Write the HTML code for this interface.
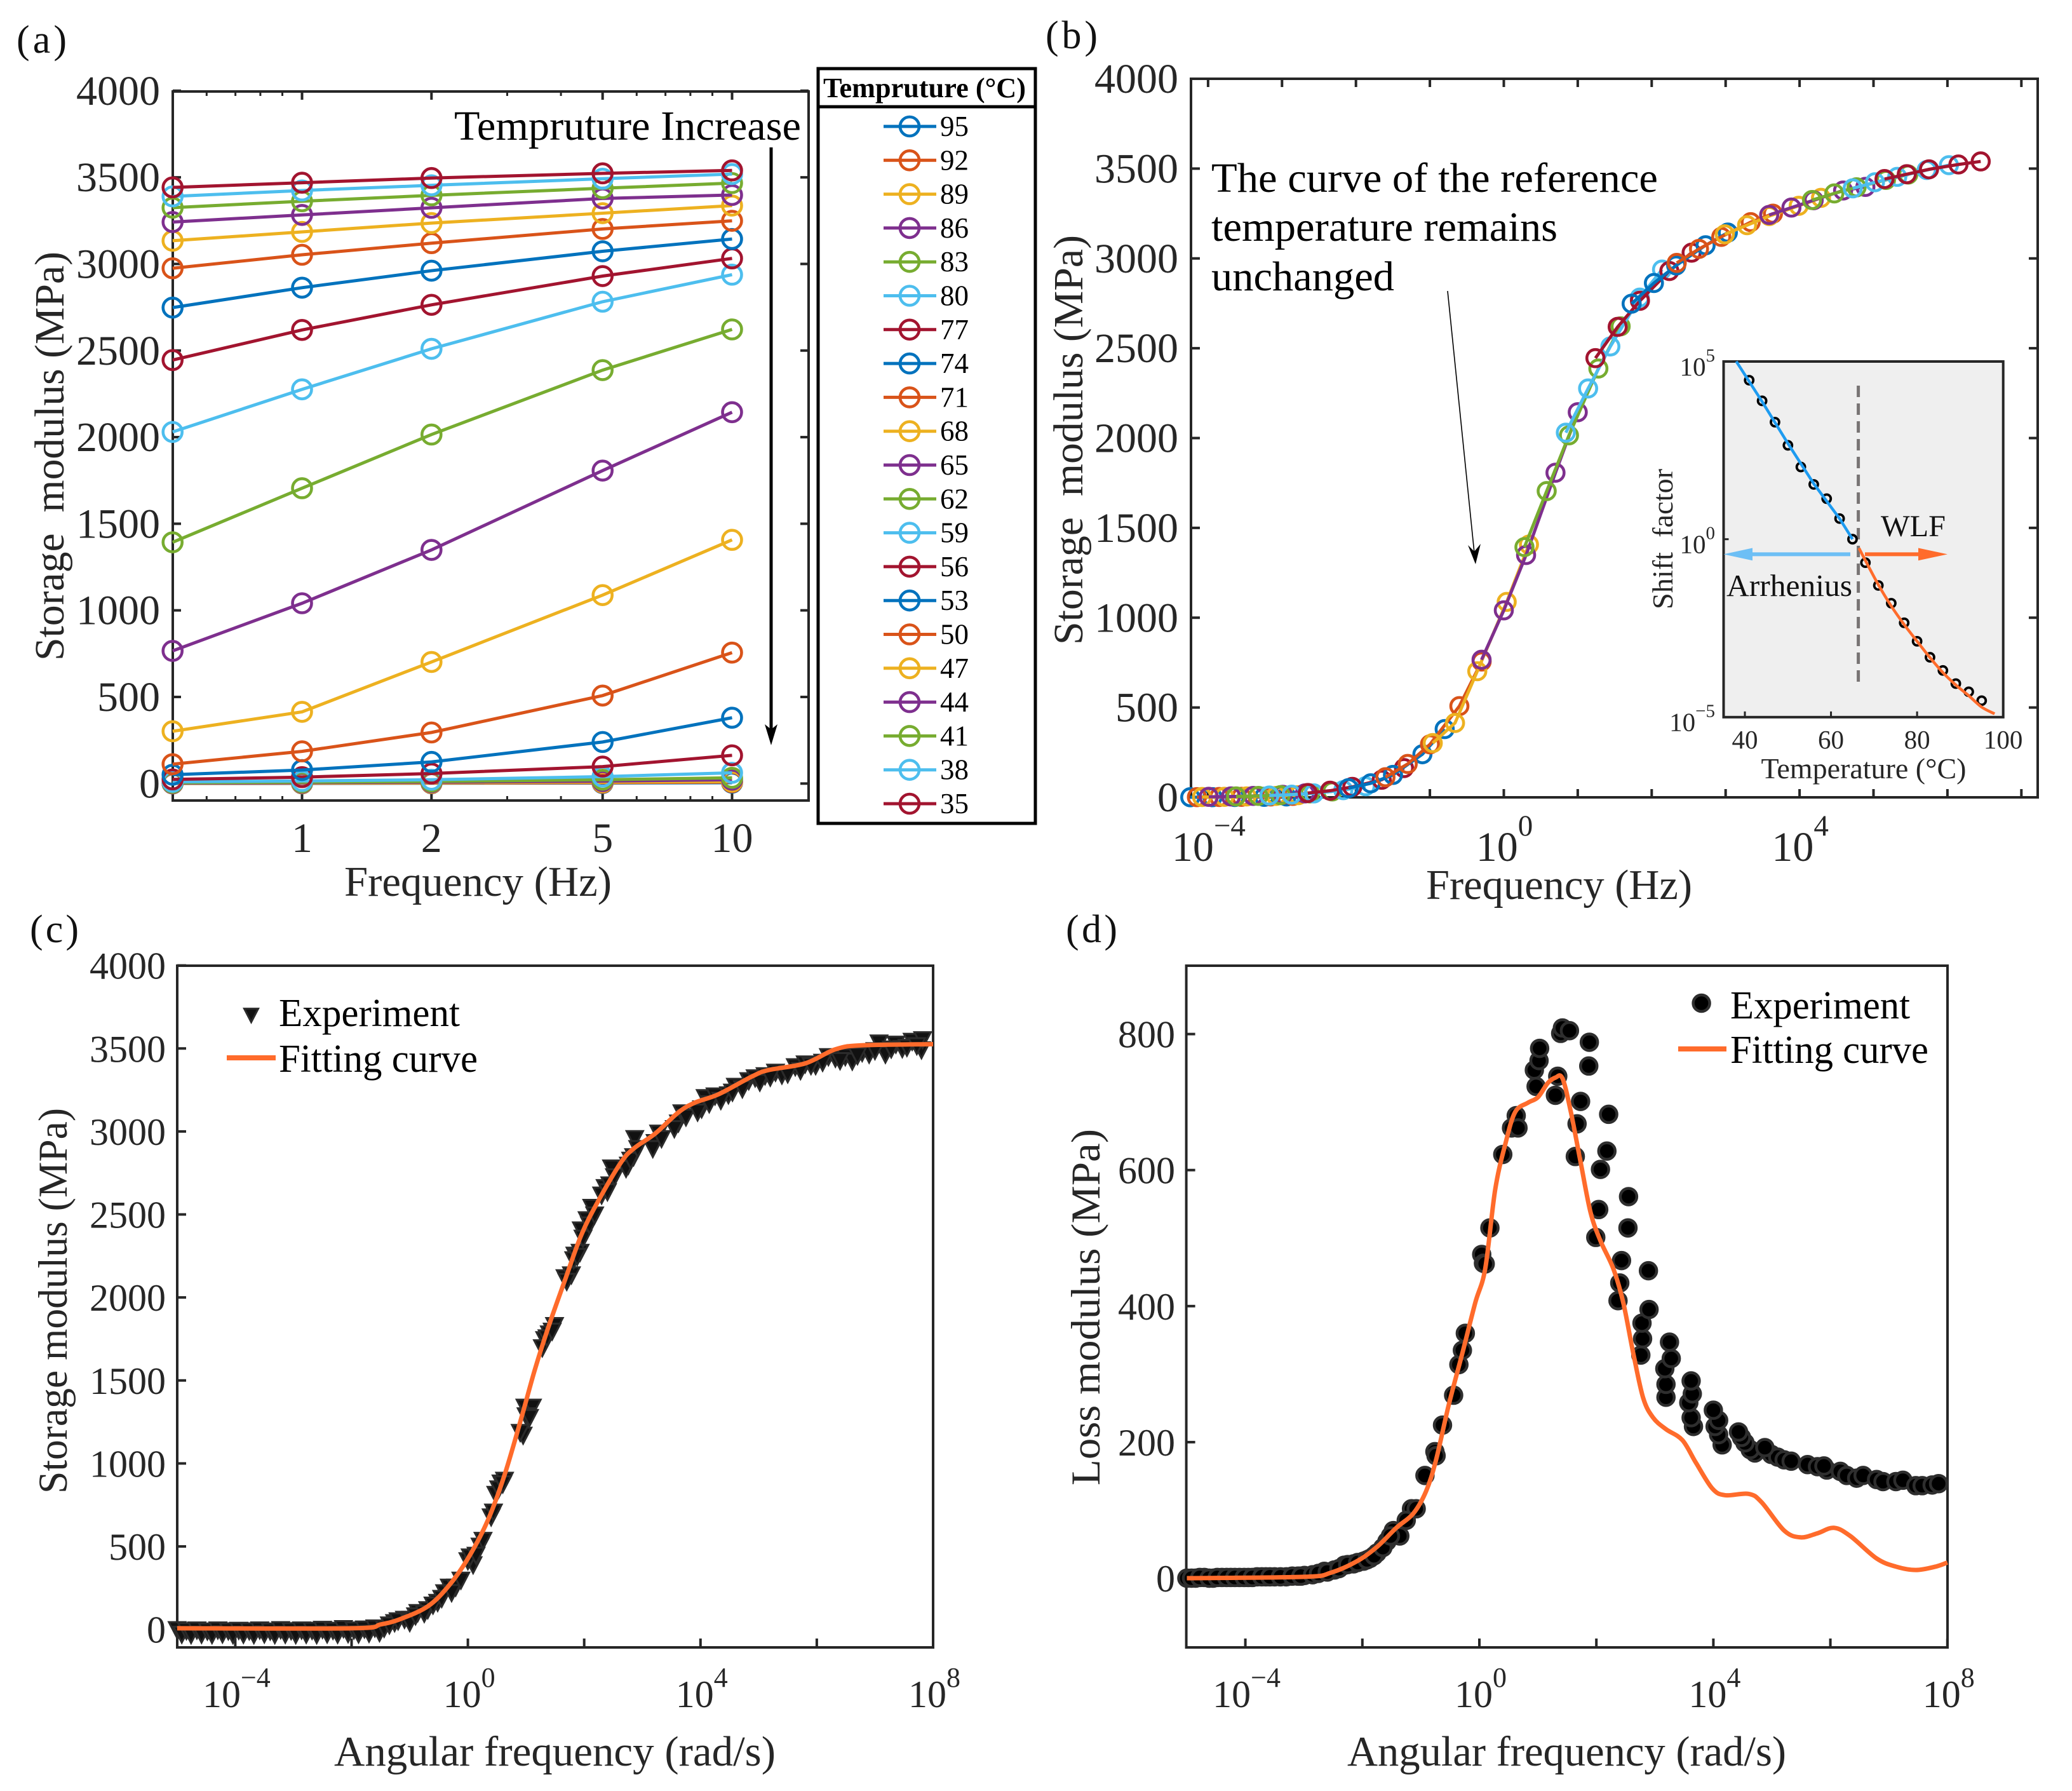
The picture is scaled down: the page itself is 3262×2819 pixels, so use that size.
<!DOCTYPE html>
<html lang="en">
<head>
<meta charset="utf-8">
<title>Storage and loss modulus master curves</title>
<style>
html,body{margin:0;padding:0;background:#fff;}
svg{display:block;}
text{font-family:"Liberation Serif","Noto Serif CJK SC",serif;}
</style>
</head>
<body>
<svg id="figure" xmlns="http://www.w3.org/2000/svg" width="3262" height="2819" viewBox="0 0 3262 2819">
<rect x="0" y="0" width="3262" height="2819" fill="#ffffff"/>

<g id="panelA">
  <text x="26" y="83" font-size="62" fill="#111" textLength="79" lengthAdjust="spacing">(a)</text>
  <text x="100" y="1040" transform="rotate(-90 100 1040)" font-size="66" fill="#262626" textLength="644" lengthAdjust="spacingAndGlyphs">Storage&#160; modulus (MPa)</text>
  <text x="542" y="1410" font-size="67" fill="#262626" textLength="421" lengthAdjust="spacingAndGlyphs">Frequency (Hz)</text>
  <text x="715" y="220" font-size="66" fill="#000" textLength="546" lengthAdjust="spacingAndGlyphs">Tempruture Increase</text>
  <line x1="1214" y1="232" x2="1214" y2="1150" stroke="#000" stroke-width="5"/>
  <polygon points="1204,1140 1214,1148 1224,1140 1214,1173" fill="#000"/>
  <g id="legendA">
    <rect x="1288" y="108" width="342" height="1188" fill="#fff" stroke="#000" stroke-width="5"/>
    <line x1="1288" y1="168" x2="1630" y2="168" stroke="#000" stroke-width="5"/>
    <text x="1296" y="153" font-size="44" font-weight="bold" fill="#000" textLength="319" lengthAdjust="spacingAndGlyphs">Tempruture (°C)</text>
  </g>
</g>

<g id="panelB">
  <text x="1646" y="76" font-size="62" fill="#111" textLength="82" lengthAdjust="spacing">(b)</text>
  <text x="1704" y="1015" transform="rotate(-90 1704 1015)" font-size="66" fill="#262626" textLength="645" lengthAdjust="spacingAndGlyphs">Storage&#160; modulus (MPa)</text>
  <text x="2245" y="1415" font-size="67" fill="#262626" textLength="419" lengthAdjust="spacingAndGlyphs">Frequency (Hz)</text>
  <text x="1907" y="302" font-size="66" fill="#000" textLength="703" lengthAdjust="spacingAndGlyphs">The curve of the reference</text>
  <text x="1907" y="379" font-size="66" fill="#000" textLength="545" lengthAdjust="spacingAndGlyphs">temperature remains</text>
  <text x="1907" y="457" font-size="66" fill="#000" textLength="288" lengthAdjust="spacingAndGlyphs">unchanged</text>
  <line x1="2279" y1="458" x2="2321" y2="870" stroke="#000" stroke-width="1.6"/>
  <polygon points="2311,858 2321,868 2331,856 2323,888" fill="#000"/>
</g>

<g id="panelC">
  <text x="47" y="1483" font-size="62" fill="#111" textLength="77" lengthAdjust="spacing">(c)</text>
  <text x="105" y="2351" transform="rotate(-90 105 2351)" font-size="65" fill="#262626" textLength="607" lengthAdjust="spacingAndGlyphs">Storage modulus (MPa)</text>
  <text x="526" y="2779" font-size="67" fill="#262626" textLength="695" lengthAdjust="spacingAndGlyphs">Angular frequency (rad/s)</text>
</g>

<g id="panelD">
  <text x="1678" y="1483" font-size="62" fill="#111" textLength="81" lengthAdjust="spacing">(d)</text>
  <text x="1731" y="2338" transform="rotate(-90 1731 2338)" font-size="65" fill="#262626" textLength="561" lengthAdjust="spacingAndGlyphs">Loss modulus (MPa)</text>
  <text x="2121" y="2779" font-size="67" fill="#262626" textLength="691" lengthAdjust="spacingAndGlyphs">Angular frequency (rad/s)</text>
</g>
</svg>

<script>
/* ---------- chart data ---------- */
const temperatures = [95,92,89,86,83,80,77,74,71,68,65,62,59,56,53,50,47,44,41,38,35];
const frequenciesHz = [0.5,1,2,5,10];
const storageByTemp = [
  [0.5,1,2,3,5],
  [1,2,3,5,8],
  [2,3,5,8,12],
  [3,5,8,14,22],
  [5,8,12,22,33],
  [10,15,22,40,62],
  [24,37,58,98,163],
  [51,78,125,240,380],
  [112,186,295,508,756],
  [302,414,702,1088,1407],
  [766,1041,1349,1807,2144],
  [1393,1705,2015,2387,2622],
  [2030,2276,2510,2782,2938],
  [2445,2619,2764,2930,3032],
  [2748,2863,2961,3073,3144],
  [2975,3053,3120,3202,3249],
  [3134,3185,3236,3293,3337],
  [3242,3283,3324,3378,3398],
  [3325,3362,3396,3437,3467],
  [3390,3424,3454,3492,3519],
  [3442,3469,3496,3523,3540]
];
const seriesColors = ["#0072BD","#D95319","#EDB120","#7E2F8E","#77AC30","#4DBEEE","#A2142F"];
const logShiftByTemp = [-3.94,-3.85,-3.78,-3.69,-3.32,-2.87,-2.35,-1.80,-1.30,-0.66,0,0.58,1.14,1.54,2.03,2.64,3.29,3.89,4.47,5.02,5.45];

const yTicksStorage = [0,500,1000,1500,2000,2500,3000,3500,4000];
const yTicksLoss = [0,200,400,600,800];
const xTicksA = [1,2,5,10];
const xMinorA = [0.6,0.7,0.8,0.9,3,4,6,7,8,9];
const xTicksB = [-4,-3,-2,-1,0,1,2,3,4,5,6,7];
const xLabelsB = [-4,0,4];
const xTicksCD = [-4,-2,0,2,4,6,8];
const xLabelsCD = [-4,0,4,8];

const insetTemps = [41,44,47,50,53,56,59,62,65,68,71,74,77,80,83,86,89,92,95];
const insetLogShift = [4.47,3.89,3.29,2.64,2.03,1.54,1.14,0.58,0,-0.66,-1.30,-1.80,-2.35,-2.87,-3.32,-3.69,-4.06,-4.29,-4.54];
const arrheniusT = [38,44,50,56,62,65];
const arrheniusLog = [5.0,3.87,2.69,1.56,0.58,0];
const wlfT = [66.5,68,71,74,77,80,83,86,89,92,95,98];
const wlfLog = [-0.25,-0.6,-1.28,-1.88,-2.4,-2.87,-3.33,-3.75,-4.1,-4.4,-4.72,-4.91];
const insetXTicks = [40,60,80,100];
const insetYExp = [5,0,-5];

const expCLogX = [-5,-4.92,-4.84,-4.76,-4.66,-4.58,-4.48,-4.4,-4.3,-4.22,-4.12,-4.04,-3.94,-3.86,-3.76,-3.68,-3.58,-3.5,-3.4,-3.32,-3.22,-3.14,-3.04,-2.96,-2.86,-2.78,-2.68,-2.6,-2.5,-2.42,-2.32,-2.24,-2.14,-2.06,-1.96,-1.88,-1.78,-1.7,-1.6,-1.52,
 -1.44,-1.26,-1.09,-0.98,-0.86,-0.69,-0.52,-0.40,-0.32,-0.21,0,0.09,0.21,0.40,0.48,0.57,0.63,0.95,1.03,0.98,1.11,1.32,1.40,1.49,1.67,1.78,1.84,1.93,1.95,2.05,2.13,2.36,2.44,2.47,2.76,2.85,2.87,3.22,3.28,3.62,3.68,4.02,4.08,4.25,4.48,4.6,4.83,4.94,5.11,5.29,5.40,5.63,5.80,5.98,6.2,6.32,6.49,6.61,6.78,6.9,7.07,7.18,7.36,7.47,7.64,7.8,7.82,
 -1.35,-1.2,-1.0,-0.9,-0.75,-0.6,-0.45,-0.28,-0.12,0.04,0.14,0.26,0.44,0.53,0.6,0.9,1.0,1.06,1.28,1.36,1.45,1.7,1.82,1.88,1.98,2.09,2.18,2.3,2.4,2.52,2.72,2.8,2.92,3.18,3.33,3.55,3.75,3.95,4.15,4.35,4.55,4.72,5.02,5.2,5.5,5.72,5.9,6.1,6.4,6.7,7.0,7.28,7.55,7.72];
const expCValue = [2,-26,-4,-28,0,-26,-6,-28,0,-24,-5,-28,-2,-26,-5,-28,0,-24,-6,-28,2,-26,-4,-28,0,-26,-2,-28,4,-24,-2,-26,8,-22,0,-24,6,-20,12,-16,
 10,44,64,64,105,122,166,224,258,258,417,393,505,681,817,885,902,1173,1309,1342,1342,1749,1783,1834,2122,2139,2258,2275,2410,2471,2546,2665,2681,2783,2800,2851,2960,2936,2993,3054,3115,3139,3207,3217,3224,3275,3309,3326,3339,3360,3343,3393,3410,3400,3454,3444,3454,3427,3478,3468,3536,3468,3529,3502,3546,3495,3556,
 30,55,45,85,100,150,190,225,300,440,450,540,710,850,880,1190,1290,1280,1700,1760,1800,2100,2230,2250,2360,2440,2500,2620,2640,2730,2780,2830,2900,2900,2960,3020,3090,3120,3170,3190,3240,3260,3300,3330,3350,3370,3400,3420,3430,3460,3490,3500,3510,3520];
const fitCLogX = [-5,-2,-1.5,-1.15,-0.69,-0.34,0,0.34,0.63,0.92,1.15,1.38,1.67,1.95,2.24,2.64,2.87,3.22,3.62,3.9,4.31,4.89,5.17,5.8,6.32,6.78,8];
const fitCValue = [7,7,30,64,139,258,427,655,930,1275,1563,1817,2105,2376,2580,2817,2902,2987,3115,3173,3224,3332,3370,3410,3495,3519,3526];

const expDLogX = [-5,-4.85,-4.7,-4.55,-4.4,-4.25,-4.1,-3.95,-3.8,-3.65,-3.5,-3.3,-3.1,-2.99,-2.65,-2.48,-2.31,-2.15,-1.98,-1.87,-1.75,-1.58,-1.47,-1.36,-1.16,-1.08,-0.93,-0.76,-0.74,-0.63,-0.44,-0.35,-0.29,-0.24,0.04,0.07,0.18,0.10,0.40,0.55,0.63,0.66,0.94,0.97,1.02,1.03,1.34,1.30,1.39,1.42,1.54,1.64,1.67,1.73,1.87,1.88,1.99,2.04,2.07,2.18,2.21,2.37,2.40,2.43,2.54,2.55,2.76,2.79,2.78,2.90,2.89,3.19,3.19,3.17,3.28,3.25,3.66,3.62,3.58,3.64,3.62,4.15,4.09,4.03,4.09,4.0,4.71,4.63,4.54,4.48,4.43,4.99,5.10,5.21,5.33,4.88,5.61,5.78,5.94,5.89,6.17,6.28,6.45,6.56,6.79,6.90,7.12,7.24,7.46,7.57,7.74,7.85,
 -4.92,-4.78,-4.62,-4.48,-4.32,-4.18,-4.02,-3.88,-3.72,-3.58,-3.4,-3.2,-3.05,-2.85,-2.75,-2.6,-2.4,-2.25,-2.08,-1.92,-1.8,-1.65,-1.52,-1.25];
const expDValue = [0,0,1,0,1,1,1,1,2,2,2,2,3,4,10,12,19,21,25,29,37,54,70,62,102,102,151,186,180,225,269,314,335,360,476,463,515,462,623,662,680,662,747,723,761,779,738,710,801,809,805,620,668,701,753,788,501,542,601,628,682,408,434,467,515,561,328,352,375,395,452,266,285,308,323,347,223,236,258,271,290,196,211,223,232,247,184,189,199,207,215,182,178,174,172,192,167,164,159,165,157,151,147,151,145,142,142,144,136,136,137,139,
 0,1,0,1,1,1,1,1,2,2,2,3,3,5,7,9,14,20,23,27,33,45,62,85];
const fitDLogX = [-5,-2.99,-2.54,-2.09,-1.75,-1.42,-1.13,-0.91,-0.74,-0.52,-0.29,-0.07,0.10,0.27,0.44,0.61,0.83,1.0,1.17,1.30,1.42,1.56,1.73,1.90,2.07,2.29,2.46,2.63,2.80,2.97,3.19,3.47,3.70,3.98,4.20,4.60,4.82,5.21,5.49,5.78,6.06,6.34,6.79,7.12,7.46,7.80,8];
const fitDValue = [0,2,8,25,46,74,95,128,174,256,331,405,455,571,637,685,699,707,728,736,735,687,612,538,496,455,405,331,265,236,219,203,170,132,122,124,112,70,60,66,74,62,29,17,12,17,23];

/* ---------- helpers ---------- */
const NS = "http://www.w3.org/2000/svg";
const AXIS = "#262626";
const FIT = "#FF6B2B";
function mk(tag, parent, attrs){
  const el = document.createElementNS(NS, tag);
  for(const k in attrs){ el.setAttribute(k, attrs[k]); }
  parent.appendChild(el);
  return el;
}
function logScale(px0, pxPerDecade){ return function(l){ return px0 + l*pxPerDecade; }; }
function linScale(pxZero, pxPerUnit){ return function(v){ return pxZero - v*pxPerUnit; }; }
function polyPoints(xs, ys){ return xs.map(function(x,i){ return x.toFixed(2)+","+ys[i].toFixed(2); }).join(" "); }
function smoothPath(xs, ys){
  let d = "M"+xs[0].toFixed(2)+" "+ys[0].toFixed(2);
  for(let i=0;i<xs.length-1;i++){
    const x0=xs[Math.max(i-1,0)], y0=ys[Math.max(i-1,0)];
    const x1=xs[i], y1=ys[i], x2=xs[i+1], y2=ys[i+1];
    const x3=xs[Math.min(i+2,xs.length-1)], y3=ys[Math.min(i+2,ys.length-1)];
    d += " C"+(x1+(x2-x0)/6).toFixed(2)+" "+(y1+(y2-y0)/6).toFixed(2)+" "+(x2-(x3-x1)/6).toFixed(2)+" "+(y2-(y3-y1)/6).toFixed(2)+" "+x2.toFixed(2)+" "+y2.toFixed(2);
  }
  return d;
}
function label(parent, x, y, str, size, anchor, fill){
  const t = mk("text", parent, {x:x, y:y, "font-size":size, "text-anchor":anchor, fill:fill||AXIS});
  t.textContent = str;
  return t;
}
function powLabel(parent, x, y, exp, size, supSize, raise, anchor){
  const t = mk("text", parent, {x:x, y:y, "font-size":size, "text-anchor":anchor, fill:AXIS});
  t.appendChild(document.createTextNode("10"));
  const s = mk("tspan", t, {dy:-raise, "font-size":supSize});
  s.textContent = exp < 0 ? "\u2212"+Math.abs(exp) : String(exp);
  return t;
}
function tick(parent, x1, y1, x2, y2, w){
  return mk("line", parent, {x1:x1, y1:y1, x2:x2, y2:y2, stroke:AXIS, "stroke-width":w||4});
}

/* ---------- panel (a) ---------- */
(function(){
  const root = document.getElementById("panelA");
  const L=272, R=1273, T=144, B=1260;
  const x = function(f){ return 475.5 + Math.log10(f)*677; };
  const y = linScale(1233.3, 0.27262);
  const plot = mk("g", root, {});
  
  
  const axes = mk("g", plot, {});
  
  
  yTicksStorage.forEach(function(v){
    const a = tick(axes, L, y(v), L+13, y(v));
    
    
    const b = tick(axes, R, y(v), R-13, y(v));
    
    
    const t = label(axes, 252, y(v)+22, String(v), 66, "end");
    
    
  });
  xTicksA.forEach(function(f){
    const a = tick(axes, x(f), B, x(f), B-13);
    
    
    const b = tick(axes, x(f), T, x(f), T+13);
    
    
    const t = label(axes, x(f), 1341, String(f), 66, "middle");
    
    
  });
  xMinorA.forEach(function(f){
    const a = tick(axes, x(f), B, x(f), B-7, 3);
    
    
    const b = tick(axes, x(f), T, x(f), T+7, 3);
    
    
  });
  const frame = mk("rect", axes, {x:L, y:T, width:R-L, height:B-T, fill:"none", stroke:AXIS, "stroke-width":4});
  
  

  temperatures.forEach(function(temp, i){
    const color = seriesColors[i % seriesColors.length];
    const g = mk("g", plot, {});
    
    
    const xs = frequenciesHz.map(x);
    const ys = storageByTemp[i].map(y);
    const line = mk("polyline", g, {points:polyPoints(xs,ys), fill:"none", stroke:color, "stroke-width":5});
    
    
    xs.forEach(function(px, k){
      const c = mk("circle", g, {cx:px, cy:ys[k], r:15, fill:"none", stroke:color, "stroke-width":4.6});
      
      
    });
  });

  const legend = document.getElementById("legendA");
  temperatures.forEach(function(temp, i){
    const color = seriesColors[i % seriesColors.length];
    const yy = 199 + i*53.3;
    const g = mk("g", legend, {});
    
    
    const l = mk("line", g, {x1:1391, y1:yy, x2:1474, y2:yy, stroke:color, "stroke-width":5});
    
    
    const c = mk("circle", g, {cx:1432, cy:yy, r:15, fill:"none", stroke:color, "stroke-width":4.6});
    
    
    const t = label(g, 1480, yy+15, String(temp), 45, "start", "#000");
    
    
  });
})();

/* ---------- panel (b) ---------- */
(function(){
  const root = document.getElementById("panelB");
  const L=1875, R=3208, T=124, B=1255;
  const x = logScale(2367.5, 116.4);
  const y = linScale(1255, 0.28275);
  const plot = mk("g", root, {});
  
  
  const axes = mk("g", plot, {});
  
  
  yTicksStorage.forEach(function(v){
    const a = tick(axes, L, y(v), L+14, y(v));
    
    
    const b = tick(axes, R, y(v), R-14, y(v));
    
    
    const t = label(axes, 1855, y(v)+22, String(v), 66, "end");
    
    
  });
  xTicksB.forEach(function(l){
    const a = tick(axes, x(l), B, x(l), B-13);
    
    
    const b = tick(axes, x(l), T, x(l), T+13);
    
    
  });
  xLabelsB.forEach(function(l){
    const t = powLabel(axes, x(l)+1, 1355, l, 66, 47, 40, "middle");
    
    
  });
  const frame = mk("rect", axes, {x:L, y:T, width:R-L, height:B-T, fill:"none", stroke:AXIS, "stroke-width":4});
  
  

  temperatures.forEach(function(temp, i){
    const color = seriesColors[i % seriesColors.length];
    const g = mk("g", plot, {});
    
    
    const xs = frequenciesHz.map(function(f){ return x(Math.log10(f)+logShiftByTemp[i]); });
    const ys = storageByTemp[i].map(y);
    const line = mk("polyline", g, {points:polyPoints(xs,ys), fill:"none", stroke:color, "stroke-width":5});
    
    
    xs.forEach(function(px, k){
      const c = mk("circle", g, {cx:px, cy:ys[k], r:13.5, fill:"none", stroke:color, "stroke-width":4.6});
      
      
    });
  });

  /* inset */
  const inset = mk("g", plot, {});
  
  
  const iL=2713.5, iR=3153.7, iT=569, iB=1128.8;
  const ix = function(t){ return 2747 + (t-40)*6.778; };
  const iy = function(l){ return 848.7 - l*55.98; };
  const bg = mk("rect", inset, {x:iL, y:iT, width:iR-iL, height:iB-iT, fill:"#EFEFEF", stroke:AXIS, "stroke-width":4});
  
  
  insetXTicks.forEach(function(t){
    const a = tick(inset, ix(t), iB, ix(t), iB-9, 3);
    
    
    const lab = label(inset, ix(t), 1178, String(t), 41, "middle");
    
    
  });
  insetYExp.forEach(function(e){
    const a = tick(inset, iL, iy(e), iL+8, iy(e), 3);
    
    
    const lab = powLabel(inset, 2700, iy(e)+22, e, 41, 29, 22, "end");
    
    
  });
  const dash = mk("line", inset, {x1:2925.6, y1:607, x2:2925.6, y2:1074, stroke:"#787474", "stroke-width":5, "stroke-dasharray":"18 10"});
  
  
  insetTemps.forEach(function(t, i){
    const c = mk("circle", inset, {cx:ix(t), cy:iy(insetLogShift[i]), r:6.5, fill:"none", stroke:"#000", "stroke-width":3.8});
    
    
  });
  const arr = mk("polyline", inset, {points:polyPoints(arrheniusT.map(ix), arrheniusLog.map(iy)), fill:"none", stroke:"#1D9BF0", "stroke-width":4.5});
  
  
  const wlf = mk("path", inset, {d:smoothPath(wlfT.map(ix), wlfLog.map(iy)), fill:"none", stroke:FIT, "stroke-width":4.5});
  
  
  const blueArrow = mk("polygon", inset, {points:"2713.5,872.4 2759,862.5 2759,869.4 2913,869.4 2913,875.4 2759,875.4 2759,882.3", fill:"#6DBFF5"});
  
  
  const orangeArrow = mk("polygon", inset, {points:"3066,872.4 3020,862.5 3020,869.4 2936,869.4 2936,875.4 3020,875.4 3020,882.3", fill:FIT});
  
  

  const s1 = mk("text", inset, {x:2961, y:844, "font-size":48, fill:"#111", textLength:102, lengthAdjust:"spacingAndGlyphs"});
  s1.textContent = "WLF";
  
  
  const s2 = mk("text", inset, {x:2718, y:938, "font-size":49, fill:"#111", textLength:198, lengthAdjust:"spacingAndGlyphs"});
  s2.textContent = "Arrhenius";
  
  
  const s3 = mk("text", inset, {x:2772.5, y:1225, "font-size":45, fill:AXIS, textLength:323, lengthAdjust:"spacingAndGlyphs"});
  s3.textContent = "Temperature (\u00B0C)";
  
  
  const s4 = mk("text", inset, {x:2633, y:959, "font-size":45, fill:AXIS, textLength:221, lengthAdjust:"spacingAndGlyphs", transform:"rotate(-90 2633 959)"});
  s4.textContent = "Shift\u00A0 factor";
  
  
})();

/* ---------- panels (c) and (d) shared frame ---------- */
function lowerAxes(rootId, prefix, L, R, T, B, x, y, yTicks, yLabelRight){
  const root = document.getElementById(rootId);
  const axes = mk("g", root, {});
  
  
  yTicks.forEach(function(v){
    const a = tick(axes, L, y(v), L+14, y(v));
    
    
    const t = label(axes, yLabelRight, y(v)+21, String(v), 60, "end");
    
    
  });
  xTicksCD.forEach(function(l){
    const a = tick(axes, x(l), B, x(l), B-14);
    
    
  });
  xLabelsCD.forEach(function(l){
    const t = powLabel(axes, x(l)+2, 2687, l, 60, 44, 32, "middle");
    
    
  });
  const frame = mk("rect", axes, {x:L, y:T, width:R-L, height:B-T, fill:"none", stroke:AXIS, "stroke-width":4});
  
  
  return root;
}
function triangle(parent, cx, cy, hw){
  return mk("polygon", parent, {points:(cx-hw)+","+(cy-hw*0.85)+" "+(cx+hw)+","+(cy-hw*0.85)+" "+cx+","+(cy+hw*1.08), fill:"#111", stroke:"#2b2b2b", "stroke-width":3, "stroke-linejoin":"miter"});
}

/* ---------- panel (c) ---------- */
(function(){
  const x = logScale(736.6, 91.55);
  const y = linScale(2564.7, 0.26127);
  const root = lowerAxes("panelC", "panel-c", 279, 1469, 1520, 2593, x, y, yTicksStorage, 261);
  const pts = mk("g", root, {});
  
  
  expCLogX.forEach(function(l, i){
    const m = triangle(pts, x(l), y(expCValue[i]), 13);
    
    
  });
  const fit = mk("path", root, {d:smoothPath(fitCLogX.map(x), fitCValue.map(y)), fill:"none", stroke:FIT, "stroke-width":7});
  
  
  const leg = mk("g", root, {});
  
  
  const m = triangle(leg, 395.5, 1597, 11);
  
  
  const l = mk("line", leg, {x1:357, y1:1665, x2:434, y2:1665, stroke:FIT, "stroke-width":8});
  
  
  const t1 = mk("text", leg, {x:439, y:1615, "font-size":62, fill:"#000", textLength:285, lengthAdjust:"spacingAndGlyphs"});
  t1.textContent = "Experiment";
  
  
  const t2 = mk("text", leg, {x:439, y:1687, "font-size":62, fill:"#000", textLength:313, lengthAdjust:"spacingAndGlyphs"});
  t2.textContent = "Fitting curve";
  
  
})();

/* ---------- panel (d) ---------- */
(function(){
  const x = logScale(2329, 92.1);
  const y = linScale(2484, 1.0705);
  const root = lowerAxes("panelD", "panel-d", 1867.6, 3066, 1520, 2593, x, y, yTicksLoss, 1850);
  const pts = mk("g", root, {});
  
  
  expDLogX.forEach(function(l, i){
    const m = mk("circle", pts, {cx:x(l), cy:y(expDValue[i]), r:13, fill:"#000", stroke:"#2e2e2e", "stroke-width":4.5});
    
    
  });
  const fit = mk("path", root, {d:smoothPath(fitDLogX.map(x), fitDValue.map(y)), fill:"none", stroke:FIT, "stroke-width":7});
  
  
  const leg = mk("g", root, {});
  
  
  const c = mk("circle", leg, {cx:2678.6, cy:1579, r:13, fill:"#000", stroke:"#2e2e2e", "stroke-width":4.5});
  
  
  const l = mk("line", leg, {x1:2642, y1:1651, x2:2718, y2:1651, stroke:FIT, "stroke-width":8});
  
  
  const t1 = mk("text", leg, {x:2724, y:1603, "font-size":62, fill:"#000", textLength:283, lengthAdjust:"spacingAndGlyphs"});
  t1.textContent = "Experiment";
  
  
  const t2 = mk("text", leg, {x:2724, y:1673, "font-size":62, fill:"#000", textLength:312, lengthAdjust:"spacingAndGlyphs"});
  t2.textContent = "Fitting curve";
  
  
})();
</script>
</body>
</html>
